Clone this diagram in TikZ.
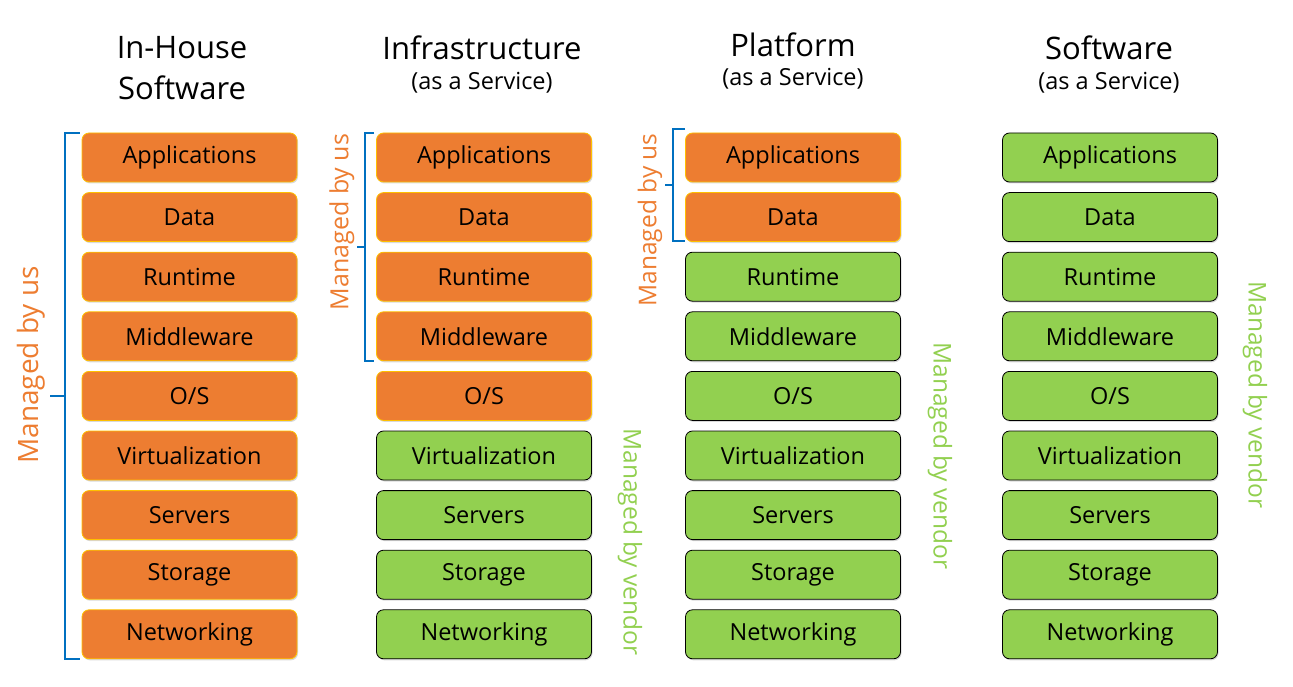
\documentclass[tikz,border=0pt]{standalone}
\usepackage{fontspec}
\setmainfont{Open Sans}
\usetikzlibrary{positioning,calc,shadows}
\definecolor{ownorange}{HTML}{ED7D31}
\definecolor{owngold}{HTML}{FFC000}
\definecolor{vendgreen}{HTML}{92D050}
\definecolor{braceblue}{HTML}{0070C0}
\tikzset{
  layer/.style={rounded corners=7pt, minimum width=215pt, minimum height=49pt,
    inner sep=0pt, font=\fontsize{23.5}{27}\selectfont,
    drop shadow={shadow xshift=1pt, shadow yshift=-1.5pt, opacity=0.3}},
  own/.style={layer, fill=ownorange, draw=owngold, line width=0.8pt},
  vendor/.style={layer, fill=vendgreen, draw=black, line width=0.8pt},
  title/.style={font=\fontsize{31}{35}\selectfont},
  subtitle/.style={font=\fontsize{23.5}{27}\selectfont},
  usnote/.style={text=ownorange, rotate=90, font=\fontsize{#1}{#1}\selectfont},
  vendnote/.style={text=vendgreen, rotate=-90, font=\fontsize{24.5}{28}\selectfont},
  brace/.style={draw=braceblue, line width=2pt},
}
\begin{document}
\begin{tikzpicture}[x=1pt,y=-1pt]
  \useasboundingbox (0,0) rectangle (1293,687);
  %Column titles
  \node[title] (t1a) at (182,48) {In-House};
  \node[title] (t1b) at (182,88) {Software};
  \node[title] (t2a) at (482,48) {Infrastructure};
  \node[subtitle] (t2b) at (482,83) {(as a Service)};
  \node[title] (t3a) at (793,45) {Platform};
  \node[subtitle] (t3b) at (793,79) {(as a Service)};
  \node[title] (t4a) at (1109,48) {Software};
  \node[subtitle] (t4b) at (1109,83) {(as a Service)};
  %Layer stacks: column/centre x/how many layers we manage
  \foreach \col/\cx/\nown in {1/189.5/9, 2/484/5, 3/793/2, 4/1110/0} {
      \foreach \lname [count=\i] in {Applications,Data,Runtime,Middleware,O/S,
          Virtualization,Servers,Storage,Networking} {
          \pgfmathsetmacro{\cy}{157.5+59.6*(\i-1)} % row centre
          \ifnum\i>\nown
            \tikzset{cur/.style={vendor}}
          \else
            \tikzset{cur/.style={own}}
          \fi
          \node[cur] (L\col-\i) at (\cx,\cy) {\lname};
        }
    }
  %Braces
  \draw[brace] ([xshift=-2pt]L1-1.north west) -- ++(-15,0) |- ([xshift=-2pt]L1-9.south west);
  \draw[brace] ($([xshift=-17pt]L1-1.north west)!0.5!([xshift=-17pt]L1-9.south west)$) -- ++(-15,0);
  \draw[brace] ([xshift=-2pt]L2-1.north west) -- ++(-9,0) |- ([xshift=-2pt]L2-4.south west);
  \draw[brace] ($([xshift=-11pt]L2-1.north west)!0.5!([xshift=-11pt]L2-4.south west)$) -- ++(-8,0);
  \draw[brace] ([yshift=4pt]L3-1.north west) -- ++(-12,0) |- ([yshift=1pt]L3-2.south west);
  \draw[brace] ($([xshift=-12pt,yshift=4pt]L3-1.north west)!0.5!([xshift=-12pt,yshift=1pt]L3-2.south west)$) -- ++(-8,0);
  %Who manages what
  \node[usnote=28] (us1) at (31,365) {Managed by us};
  \node[usnote=25] (us2) at (342,222) {Managed by us};
  \node[usnote=24.5] (us3) at (650,220) {Managed by us};
  \node[vendnote] (vd2) at (630,542) {Managed by vendor};
  \node[vendnote] (vd3) at (940,456) {Managed by vendor};
  \node[vendnote] (vd4) at (1255,395) {Managed by vendor};
\end{tikzpicture}
\end{document}
